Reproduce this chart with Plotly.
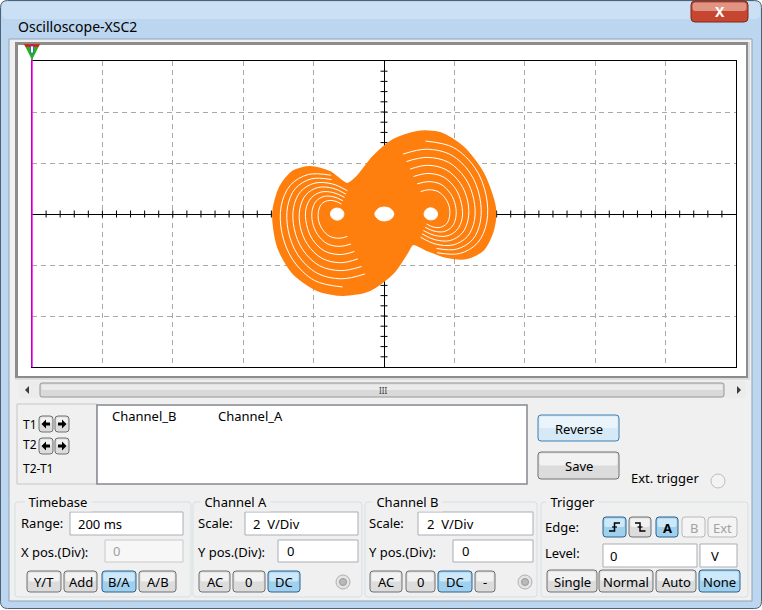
import plotly.graph_objects as go

W, H = 762, 610
FONT = "Noto Sans"
ORANGE = "#ff7f0e"

# ---------------- trace data (volts, Channel A on x, Channel B on y) ----------------
outline_x = [-3.15, -2.95, -2.59, -2.10, -1.53, -1.05, -0.77, -0.31, 0.26, 0.94, 1.59, 2.24,
             2.81, 3.15, 3.10, 2.81, 2.36, 1.79, 1.22, 0.82, 0.65, 0.26, -0.40, -1.16, -1.90,
             -2.59, -3.01, -3.15]
outline_y = [0.04, 1.06, 1.66, 1.84, 1.64, 1.18, 1.45, 2.24, 2.90, 3.22, 3.18, 2.63,
             1.61, 0.27, -0.63, -1.41, -1.73, -1.69, -1.41, -1.18, -1.53, -2.31, -2.98, -3.18,
             -2.98, -2.31, -1.29, 0.04]

# openings around the three equilibrium points
holes = [
    ([-0.26, -0.17, 0.00, 0.19, 0.28, 0.19, 0.00, -0.17, -0.26],
     [0.00, 0.20, 0.27, 0.20, 0.00, -0.20, -0.27, -0.20, 0.00]),
    ([-1.52, -1.47, -1.33, -1.19, -1.14, -1.20, -1.34, -1.47, -1.52],
     [0.00, 0.17, 0.23, 0.16, -0.01, -0.18, -0.24, -0.16, 0.00]),
    ([1.52, 1.47, 1.33, 1.19, 1.14, 1.20, 1.34, 1.47, 1.52],
     [0.00, -0.17, -0.23, -0.16, 0.01, 0.18, 0.24, 0.16, 0.00]),
]

# thin gaps between the windings of the left scroll
gaps_left = [
    ([-1.51, -2.15, -2.66, -2.92, -2.90, -2.59, -1.97, -1.18],
     [1.52, 1.55, 1.13, 0.32, -0.74, -1.80, -2.61, -2.86]),
    ([-1.49, -2.06, -2.52, -2.74, -2.72, -2.45, -1.90, -1.20, -0.54],
     [1.35, 1.38, 1.00, 0.28, -0.66, -1.60, -2.32, -2.54, -2.35]),
    ([-1.04, -1.47, -1.97, -2.37, -2.57, -2.55, -2.31, -1.83, -1.22, -0.64],
     [0.91, 1.18, 1.21, 0.88, 0.25, -0.58, -1.40, -2.03, -2.22, -2.06]),
    ([-1.08, -1.45, -1.88, -2.22, -2.39, -2.38, -2.17, -1.76, -1.23, -0.74],
     [0.78, 1.01, 1.04, 0.75, 0.21, -0.49, -1.20, -1.74, -1.91, -1.76]),
    ([-1.12, -1.44, -1.79, -2.07, -2.22, -2.20, -2.03, -1.69, -1.25, -0.84],
     [0.65, 0.84, 0.86, 0.63, 0.18, -0.41, -1.00, -1.45, -1.59, -1.47]),
    ([-1.17, -1.42, -1.70, -1.93, -2.04, -2.03, -1.89, -1.62, -1.27, -0.94],
     [0.52, 0.67, 0.69, 0.50, 0.14, -0.33, -0.80, -1.16, -1.27, -1.18]),
    ([-1.21, -1.40, -1.61, -1.78, -1.86, -1.86, -1.75, -1.55, -1.28, -1.04],
     [0.39, 0.51, 0.52, 0.38, 0.11, -0.25, -0.60, -0.87, -0.95, -0.88]),
]

# thin gaps between the windings of the right scroll
gaps_right = [
    ([1.51, 2.15, 2.66, 2.92, 2.90, 2.59, 1.97, 1.18],
     [-1.52, -1.55, -1.13, -0.32, 0.74, 1.80, 2.61, 2.86]),
    ([1.49, 2.06, 2.52, 2.74, 2.72, 2.45, 1.90, 1.20, 0.54],
     [-1.35, -1.38, -1.00, -0.28, 0.66, 1.60, 2.32, 2.54, 2.35]),
    ([1.04, 1.47, 1.97, 2.37, 2.57, 2.55, 2.31, 1.83, 1.22, 0.64],
     [-0.91, -1.18, -1.21, -0.88, -0.25, 0.58, 1.40, 2.03, 2.22, 2.06]),
    ([1.08, 1.45, 1.88, 2.22, 2.39, 2.38, 2.17, 1.76, 1.23, 0.74],
     [-0.78, -1.01, -1.04, -0.75, -0.21, 0.49, 1.20, 1.74, 1.91, 1.76]),
    ([1.12, 1.44, 1.79, 2.07, 2.22, 2.20, 2.03, 1.69, 1.25, 0.84],
     [-0.65, -0.84, -0.86, -0.63, -0.18, 0.41, 1.00, 1.45, 1.59, 1.47]),
    ([1.17, 1.42, 1.70, 1.93, 2.04, 2.03, 1.89, 1.62, 1.27, 0.94],
     [-0.52, -0.67, -0.69, -0.50, -0.14, 0.33, 0.80, 1.16, 1.27, 1.18]),
    ([1.21, 1.40, 1.61, 1.78, 1.86, 1.86, 1.75, 1.55, 1.28, 1.04],
     [-0.39, -0.51, -0.52, -0.38, -0.11, 0.25, 0.60, 0.87, 0.95, 0.88]),
]

# ---------------- helpers for the window chrome (pixel -> paper) ----------------
def X(p):
    return p / W


def Y(p):
    return 1 - p / H


shapes = []
notes = []


def rpath(x0, y0, x1, y1, r):
    pts = [
        f"M{X(x0 + r)},{Y(y0)}", f"L{X(x1 - r)},{Y(y0)}", f"Q{X(x1)},{Y(y0)} {X(x1)},{Y(y0 + r)}",
        f"L{X(x1)},{Y(y1 - r)}", f"Q{X(x1)},{Y(y1)} {X(x1 - r)},{Y(y1)}",
        f"L{X(x0 + r)},{Y(y1)}", f"Q{X(x0)},{Y(y1)} {X(x0)},{Y(y1 - r)}",
        f"L{X(x0)},{Y(y0 + r)}", f"Q{X(x0)},{Y(y0)} {X(x0 + r)},{Y(y0)}", "Z",
    ]
    return " ".join(pts)


def box(x0, y0, x1, y1, fill=None, line=None, width=1, r=0, layer="below"):
    d = dict(xref="paper", yref="paper", layer=layer,
             line=dict(color=line or "rgba(0,0,0,0)", width=width if line else 0),
             fillcolor=fill or "rgba(0,0,0,0)")
    if r:
        d.update(type="path", path=rpath(x0, y0, x1, y1, r))
    else:
        d.update(type="rect", x0=X(x0), x1=X(x1), y0=Y(y1), y1=Y(y0))
    shapes.append(d)


def poly(points, fill=None, line=None, width=1, closed=True, layer="below"):
    p = "M" + " L".join(f"{X(a)},{Y(b)}" for a, b in points) + (" Z" if closed else "")
    shapes.append(dict(type="path", path=p, xref="paper", yref="paper", layer=layer,
                       fillcolor=fill or "rgba(0,0,0,0)",
                       line=dict(color=line or "rgba(0,0,0,0)", width=width if line else 0)))


def circle(cx, cy, r, fill, line, width=1):
    shapes.append(dict(type="circle", xref="paper", yref="paper", layer="below",
                       x0=X(cx - r), x1=X(cx + r), y0=Y(cy + r), y1=Y(cy - r),
                       fillcolor=fill, line=dict(color=line, width=width)))


def text(x, y, s, size=13, color="#000000", anchor="left", bg=None, bold=False):
    notes.append(dict(x=X(x), y=Y(y), xref="paper", yref="paper", text=f"<b>{s}</b>" if bold else s,
                      showarrow=False, xanchor=anchor, yanchor="middle",
                      font=dict(family=FONT, size=size, color=color),
                      bgcolor=bg, borderpad=0))


def button(x0, y0, x1, y1, label="", state="normal", size=13):
    styles = {
        "normal": ("#707070", "#f2f2f2", "#dcdcdc", "#000000"),
        "pressed": ("#2c628b", "#cde8f9", "#9fd0ee", "#000000"),
        "disabled": ("#b5b9bc", "#f4f4f4", "#f4f4f4", "#a2a2a2"),
        "focus": ("#3c7fb1", "#eaf4fb", "#d6e9f7", "#000000"),
    }
    border, top, bot, tc = styles[state]
    box(x0, y0, x1, y1, fill=bot, line=border, r=3)
    box(x0 + 1.5, y0 + 1.5, x1 - 1.5, (y0 + y1) / 2, fill=top, r=2)
    if label:
        text((x0 + x1) / 2, (y0 + y1) / 2 + 0.5, label, size=size, color=tc, anchor="center")


def textbox(x0, y0, x1, y1, s, tx, disabled=False):
    box(x0, y0, x1, y1, fill="#f7f7f7" if disabled else "white",
        line="#c9c9c9" if disabled else "#abadb3")
    text(tx, (y0 + y1) / 2, s, color="#a0a0a0" if disabled else "#000000")


def group(x0, y0, x1, y1, title, tx):
    box(x0, y0, x1, y1, line="#d5dfe5", r=3)
    text(tx, y0, "&nbsp;" + title + "&nbsp;", bg="#f0f0f0")


def led(cx, cy):
    circle(cx, cy, 7, "#e4e4e4", "#b0b0b0")
    circle(cx, cy, 3.5, "#b9b9b9", "#9a9a9a")


# ---------------- window frame ----------------
box(0.5, 0.5, 761.5, 608.5, fill="#bdd6ef", line="#4f6275", r=7)
box(2, 2, 760, 19, fill="#cbe0f4", r=5)
text(17, 26, "Oscilloscope-XSC2", size=14)
box(691, 1, 748, 22, fill="#c6462f", line="#7c2a1d", r=4)
box(692.5, 2.5, 746.5, 11, fill="#e09484", r=3)
text(719.5, 11.5, "X", size=14, color="white", anchor="center", bold=True)

box(9, 39, 752, 601, fill="#f0f0f0", line="#8ba2ba")

# display frame (sunken)
box(15, 42, 750, 380, fill="#dcdcdc")
box(15, 42, 748, 378, fill="#8c8c8c")
box(18, 45, 746, 376, fill="white")

# scroll bar
box(19, 381, 746, 398, fill="#ececec")
box(40, 383, 724, 397, fill="#d9d9d9", line="#979797", r=2)
box(41.5, 384.5, 722.5, 390, fill="#ebebeb", r=1)
text(383, 390, "III", size=8, color="#404040", anchor="center")
poly([(29, 386), (25, 390), (29, 394)], fill="#3c3c3c")
poly([(737, 386), (741, 390), (737, 394)], fill="#3c3c3c")

# cursor readout panel
box(17, 404, 97, 484, line="#c6c6c6")
text(22, 424, "T1", size=12)
text(22, 444, "T2", size=12)
text(22, 468, "T2-T1", size=12)
for yy in (416, 438):
    for (xa, xb, dirn) in ((39, 53, -1), (55, 69, 1)):
        button(xa, yy, xb, yy + 16)
        cx, cy = (xa + xb) / 2, yy + 8
        poly([(cx - 4 * dirn, cy - 1.6), (cx, cy - 1.6), (cx, cy - 4.5), (cx + 4.5 * dirn, cy),
              (cx, cy + 4.5), (cx, cy + 1.6), (cx - 4 * dirn, cy + 1.6)], fill="black")
box(97, 405, 527, 484, fill="white", line="#848890", width=1.5)
text(111, 416, "Channel_B")
text(217, 416, "Channel_A")
button(538, 415, 619, 441, "Reverse", "focus")
button(538, 452, 619, 479, "Save")
text(630, 478, "Ext. trigger")
circle(718, 481, 7, "#f3f3f3", "#bdbdbd")

# ---------------- control groups ----------------
group(15, 502, 191, 597, "Timebase", 24)
text(20, 523, "Range:")
textbox(70, 512, 183, 535, "200 ms", 77)
text(20, 552, "X pos.(Div):")
textbox(105, 540, 183, 562, "0", 112, disabled=True)
button(27, 571, 61, 592, "Y/T")
button(64, 571, 97, 592, "Add")
button(102, 571, 136, 592, "B/A", "pressed")
button(139, 571, 176, 592, "A/B")

group(193, 502, 362, 597, "Channel A", 200)
text(197, 523, "Scale:")
textbox(245, 512, 358, 535, "2  V/Div", 252)
text(197, 552, "Y pos.(Div):")
textbox(278, 540, 358, 562, "0", 286)
button(199, 571, 230, 592, "AC")
button(233, 571, 265, 592, "0")
button(268, 571, 300, 592, "DC", "pressed")
led(343, 582)

group(365, 502, 537, 597, "Channel B", 372)
text(368, 523, "Scale:")
textbox(418, 512, 533, 535, "2  V/Div", 426)
text(368, 552, "Y pos.(Div):")
textbox(453, 540, 533, 562, "0", 461)
button(370, 571, 402, 592, "AC")
button(406, 571, 435, 592, "0")
button(438, 571, 472, 592, "DC", "pressed")
button(475, 571, 495, 592, "-")
led(525, 582)

group(541, 502, 748, 597, "Trigger", 546)
text(544, 527, "Edge:")
button(603, 517, 626, 537, "", "pressed")
poly([(609, 531), (614.5, 531), (614.5, 523), (620, 523)], line="black", width=1.5, closed=False)
poly([(612, 527), (617, 527)], line="black", width=1.2, closed=False)
button(629, 517, 651, 537)
poly([(635, 523), (640, 523), (640, 531), (645.5, 531)], line="black", width=1.5, closed=False)
poly([(637.5, 527), (642.5, 527)], line="black", width=1.2, closed=False)
button(656, 517, 678, 537, "<b>A</b>", "pressed")
button(682, 517, 705, 537, "B", "disabled")
button(708, 517, 737, 537, "Ext", "disabled")
text(544, 553, "Level:")
textbox(603, 544, 697, 567, "0", 609)
textbox(700, 544, 737, 567, "V", 710)
button(547, 570, 597, 592, "Single")
button(599, 570, 653, 592, "Normal")
button(656, 570, 696, 592, "Auto")
button(699, 570, 740, 592, "None", "pressed")

# cursor 1 on the left edge of the screen
shapes.append(dict(type="line", xref="paper", yref="paper", x0=X(32), x1=X(32), y0=Y(52), y1=Y(367),
                   line=dict(color="#ff00ff", width=1.5), layer="above"))
poly([(24, 44), (40, 44), (32, 60)], fill="#21b521", layer="above")
poly([(24, 44), (40, 44), (38.4, 47), (25.6, 47)], fill="#e02020", layer="above")
box(30.5, 46, 33.5, 53, fill="white", line="#3050c0", width=0.8, layer="above")

# ---------------- figure ----------------
fig = go.Figure()

tick_x = [round(-9.6 + 0.4 * i, 2) for i in range(49)]
tick_y = [round(-5.6 + 0.4 * i, 2) for i in range(29)]
fig.add_trace(go.Scatter(x=tick_x, y=[0] * len(tick_x), mode="markers", hoverinfo="skip",
                         marker=dict(symbol="line-ns", size=5, line=dict(color="black", width=1))))
fig.add_trace(go.Scatter(x=[0] * len(tick_y), y=tick_y, mode="markers", hoverinfo="skip",
                         marker=dict(symbol="line-ew", size=5, line=dict(color="black", width=1))))

fig.add_trace(go.Scatter(x=outline_x, y=outline_y, mode="lines", fill="toself",
                         fillcolor=ORANGE, line=dict(color=ORANGE, width=2, shape="spline", smoothing=0.8),
                         hoverinfo="skip"))
for hx, hy in holes:
    fig.add_trace(go.Scatter(x=hx, y=hy, mode="lines", fill="toself", fillcolor="white",
                             line=dict(color="white", width=1, shape="spline"), hoverinfo="skip"))
for gx, gy in gaps_left + gaps_right:
    fig.add_trace(go.Scatter(x=gx, y=gy, mode="lines", hoverinfo="skip",
                             line=dict(color="white", width=1, shape="spline")))

axis_common = dict(showgrid=True, gridcolor="#a9a9a9", griddash="5px,4px", gridwidth=1,
                   zeroline=True, zerolinecolor="black", zerolinewidth=1,
                   showline=True, mirror=True, linecolor="black", linewidth=1,
                   showticklabels=False, ticks="", fixedrange=True, dtick=2, tick0=0)
fig.update_layout(
    width=W, height=H, margin=dict(l=0, r=0, t=0, b=0),
    paper_bgcolor="white", plot_bgcolor="white", showlegend=False,
    xaxis=dict(domain=[32 / W, 736 / W], range=[-10, 10], **axis_common),
    yaxis=dict(domain=[1 - 367 / H, 1 - 61 / H], range=[-6, 6], **axis_common),
    shapes=shapes, annotations=notes,
)

fig.write_html("out.html")
